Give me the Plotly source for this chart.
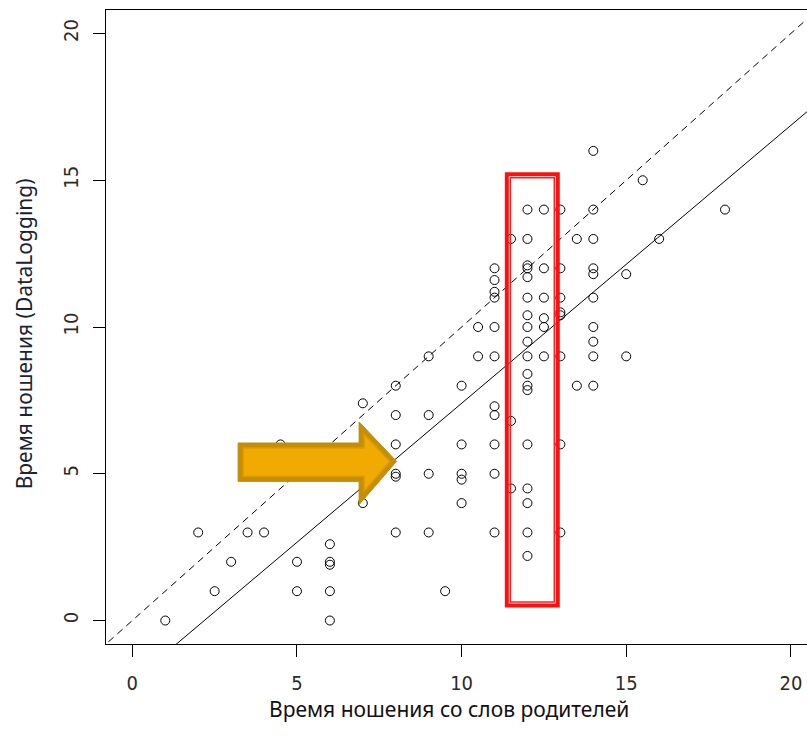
import plotly.graph_objects as go

# ---- data ----
x_vals = [1, 2, 2.5, 3, 3.5, 4, 4.5, 5, 5,
          6, 6, 6, 6, 6,
          7, 7,
          8, 8, 8, 8, 8, 8,
          9, 9, 9, 9, 9.5,
          10, 10, 10, 10, 10,
          10.5, 10.5,
          11, 11, 11, 11, 11, 11, 11, 11, 11, 11, 11,
          11.5, 11.5, 11.5,
          12, 12, 12, 12, 12, 12, 12, 12, 12, 12, 12, 12, 12, 12, 12, 12, 12, 12,
          12.5, 12.5, 12.5, 12.5, 12.5, 12.5,
          13, 13, 13, 13, 13, 13, 13, 13,
          13.5, 13.5,
          14, 14, 14, 14, 14, 14, 14, 14, 14, 14,
          15, 15, 15.5, 16, 18]
y_vals = [0, 3, 1, 2, 3, 3, 6, 2, 1,
          2.6, 2, 1.9, 1, 0,
          7.4, 4,
          8, 7, 6, 5, 4.9, 3,
          9, 7, 5, 3, 1,
          8, 6, 5, 4.8, 4,
          10, 9,
          12, 11.6, 11.2, 11, 10, 9, 7.3, 7, 6, 5, 3,
          13, 6.8, 4.5,
          14, 13, 12.1, 12, 11.7, 11, 10.4, 10, 9.5, 9, 8.4, 8, 7.85, 6, 4.5, 4, 3, 2.2,
          14, 12, 11, 10.3, 10, 9,
          14, 12, 11, 10.5, 10.4, 9, 6, 3,
          13, 8,
          16, 14, 13, 12, 11.8, 11, 10, 9.5, 9, 8,
          11.8, 9, 15, 13, 14]

fit_intercept = -2.07
fit_slope = 0.947
line_x = [-1, 21]

tick_vals = [0, 5, 10, 15, 20]
tick_text = ["0", "5", "10", "15", "20"]

x_title = "Время ношения со слов родителей"
y_title = "Время ношения (DataLogging)"

fig = go.Figure()

# identity line (dashed)
fig.add_trace(go.Scatter(x=line_x, y=line_x, mode="lines",
                         line=dict(color="black", width=1, dash="7px,5px"),
                         hoverinfo="skip", showlegend=False))
# regression line (solid)
fig.add_trace(go.Scatter(x=line_x, y=[fit_intercept + fit_slope * v for v in line_x],
                         mode="lines", line=dict(color="black", width=1),
                         hoverinfo="skip", showlegend=False))
# points
fig.add_trace(go.Scatter(x=x_vals, y=y_vals, mode="markers",
                         marker=dict(symbol="circle-open", size=9, color="black",
                                     line=dict(width=1, color="black")),
                         showlegend=False))

# red highlight rectangle (double border)
fig.add_shape(type="rect", xref="x", yref="y", x0=11.373, x1=12.921, y0=0.511, y1=15.204,
              line=dict(color="#FF1010", width=4), layer="above")
fig.add_shape(type="rect", xref="x", yref="y", x0=11.479, x1=12.815, y0=0.630, y1=15.085,
              line=dict(color="#FF2020", width=1.5), layer="above")

# arrow annotation (outer + inner)
outer = [(3.213, 6.048), (6.887, 6.048), (6.887, 6.763), (8.023, 5.422),
         (6.887, 3.948), (6.887, 4.741), (3.213, 4.741)]
inner = [(3.365, 5.878), (7.039, 5.878), (7.039, 6.338), (7.820, 5.419),
         (7.039, 4.408), (7.039, 4.912), (3.365, 4.912)]

def to_path(pts):
    return "M " + " L ".join(f"{a},{b}" for a, b in pts) + " Z"

fig.add_shape(type="path", xref="x", yref="y", path=to_path(outer),
              fillcolor="#C68D06", line=dict(color="#C08A08", width=1), layer="above")
fig.add_shape(type="path", xref="x", yref="y", path=to_path(inner),
              fillcolor="#F0AA00", line=dict(color="#DC9C04", width=1.5), layer="above")

tick_font = dict(family="Liberation Sans Narrow, Arial Narrow, DejaVu Sans Condensed",
                 size=20, color="#2a2a2a")

fig.update_layout(
    width=807, height=746,
    margin=dict(l=106, r=0, t=10, b=102),
    paper_bgcolor="white", plot_bgcolor="white",
    xaxis=dict(range=[-0.8, 20.49], tickvals=tick_vals, ticktext=tick_text,
               showgrid=False, zeroline=False, showline=True, linecolor="black",
               linewidth=1, mirror=True, ticks="outside", ticklen=12,
               tickcolor="black", tickfont=tick_font, ticklabelstandoff=9),
    yaxis=dict(range=[-0.8, 20.8], tickvals=tick_vals, ticktext=tick_text,
               showgrid=False, zeroline=False, showline=True, linecolor="black",
               linewidth=1, ticks="outside", ticklen=12, tickcolor="black",
               tickangle=-90, tickfont=tick_font, ticklabelstandoff=7),
    annotations=[
        dict(text=x_title, xref="paper", yref="paper", x=0.49, y=-0.102,
             xanchor="center", yanchor="middle", showarrow=False,
             font=dict(family="Noto Sans", size=21, color="#111111")),
        dict(text=y_title, xref="paper", yref="paper", x=-0.117, y=0.49,
             xanchor="center", yanchor="middle", showarrow=False, textangle=-90,
             font=dict(family="Noto Sans", size=21, color="#1a2233")),
    ],
)

fig.write_html("out.html",
               config={"displayModeBar": False},
               post_script="document.body.style.margin='0';"
                           "document.documentElement.style.overflow='hidden';")
